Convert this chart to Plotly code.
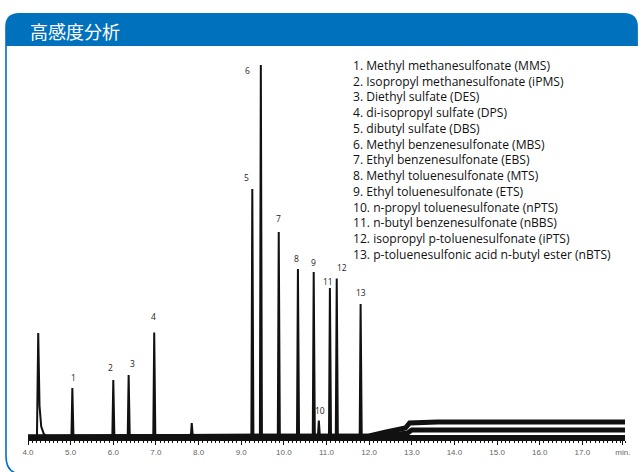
import plotly.graph_objects as go

# ---- chromatogram data (retention time in min, peak height in signal units) ----
peak_times = [4.24, 5.04, 6.00, 6.36, 6.96, 7.84, 9.26, 9.46, 9.88, 10.33, 10.70, 10.82, 11.08, 11.24, 11.80]
peak_heights = [104, 49, 57, 62, 104.5, 14, 248, 372, 205, 168, 165, 16.5, 149, 158.5, 133]
peak_labels = ["", "1", "2", "3", "4", "", "5", "6", "7", "8", "9", "10", "11", "12", "13"]

# baseline drift of the overlaid runs (time, level)
drift_b_t = [4.0, 12.0, 12.4, 12.85, 12.95, 13.6, 18.0]
drift_b_y = [0, 1, 5, 9, 14, 15, 15]
drift_c_t = [4.0, 12.3, 12.9, 13.0, 18.0]
drift_c_y = [0, 1, 4, 7, 7]

compounds = [
    "1. Methyl methanesulfonate (MMS)",
    "2. Isopropyl methanesulfonate (iPMS)",
    "3. Diethyl sulfate (DES)",
    "4. di-isopropyl sulfate (DPS)",
    "5. dibutyl sulfate (DBS)",
    "6. Methyl benzenesulfonate (MBS)",
    "7. Ethyl benzenesulfonate (EBS)",
    "8. Methyl toluenesulfonate (MTS)",
    "9. Ethyl toluenesulfonate (ETS)",
    "10. n-propyl toluenesulfonate (nPTS)",
    "11. n-butyl benzenesulfonate (nBBS)",
    "12. isopropyl p-toluenesulfonate (iPTS)",
    "13. p-toluenesulfonic acid n-butyl ester (nBTS)",
]

tick_vals = [4, 5, 6, 7, 8, 9, 10, 11, 12, 13, 14, 15, 16, 17, 17.95]
tick_text = ["4.0", "5.0", "6.0", "7.0", "8.0", "9.0", "10.0", "11.0", "12.0",
             "13.0", "14.0", "15.0", "16.0", "17.0", "min."]

title_text = "高感度分析"

# ---- layout geometry (pixels) ----
W, H = 642, 472
ML, MR, MT, MB = 28, 12, 60, 33
PW, PH = W - ML - MR, H - MT - MB
BLUE = "#0071bc"
INK = "#111111"


def px(x):
    return (x - ML) / PW


def py(y):
    return (H - MB - y) / PH


# ---- build the main trace: narrow peaks on a flat baseline ----
xs, ys = [4.0], [0]
for i, (t, h) in enumerate(zip(peak_times, peak_heights)):
    if i == 0:
        # solvent front with a tail
        xs += [t - 0.03, t, t + 0.03, t + 0.07, t + 0.13, t + 0.22]
        ys += [0, h, h * 0.3, h * 0.1, h * 0.03, 0]
    else:
        xs += [t - 0.022, t, t + 0.026]
        ys += [0, h, 0]
xs.append(18.0)
ys.append(0)

fig = go.Figure()
fig.add_trace(go.Scatter(x=drift_c_t, y=drift_c_y, mode="lines",
                         line=dict(color=INK, width=5), hoverinfo="skip"))
fig.add_trace(go.Scatter(x=drift_b_t, y=drift_b_y, mode="lines",
                         line=dict(color=INK, width=5), hoverinfo="skip"))
fig.add_trace(go.Scatter(x=[4.0, 18.0], y=[0, 0], mode="lines",
                         line=dict(color=INK, width=4), hoverinfo="skip"))
fig.add_trace(go.Scatter(x=xs, y=ys, mode="lines",
                         line=dict(color=INK, width=2), hoverinfo="skip"))

# label offsets in pixels (dx, dy above peak top)
label_offsets = {
    "1": (1, 11), "2": (-3, 13), "3": (4, 12), "4": (-1, 16), "5": (-6, 12),
    "6": (-13, -5), "7": (0, 14), "8": (-1, 11), "9": (0, 10), "10": (1, 10),
    "11": (-2, 7), "12": (5, 11), "13": (0, 12),
}
annotations = []
for t, h, lab in zip(peak_times, peak_heights, peak_labels):
    if not lab:
        continue
    dx, dy = label_offsets[lab]
    annotations.append(dict(x=t, y=h, xref="x", yref="y", text=lab, showarrow=False,
                            xshift=dx, yshift=dy, xanchor="center", yanchor="middle",
                            font=dict(family="Open Sans", size=8.5, color="#222222")))

# compound list as one left-aligned text block
annotations.append(dict(x=px(355), y=py(159.5), xref="paper", yref="paper",
                        text="<br>".join(compounds), showarrow=False,
                        xanchor="left", yanchor="middle", align="left", borderpad=0,
                        font=dict(family="Open Sans", size=12.1, color=INK)))

# header title
annotations.append(dict(x=px(28), y=py(31), xref="paper", yref="paper", text=title_text,
                        showarrow=False, xanchor="left", yanchor="middle",
                        font=dict(family="Noto Sans CJK JP", size=18, color="white")))

# header bar with rounded top corners, and the panel's left border
r = 14
hx0, hx1, hy0, hy1 = 5, 643, 13, 46
header_path = (
    f"M {px(hx0)} {py(hy1)} L {px(hx0)} {py(hy0 + r)} "
    f"Q {px(hx0)} {py(hy0)} {px(hx0 + r)} {py(hy0)} "
    f"L {px(hx1 - r)} {py(hy0)} Q {px(hx1)} {py(hy0)} {px(hx1)} {py(hy0 + r)} "
    f"L {px(hx1)} {py(hy1)} Z"
)
border_path = (
    f"M {px(5.8)} {py(46)} L {px(5.8)} {py(456)} "
    f"Q {px(5.8)} {py(474)} {px(22)} {py(474)}"
)
shapes = [
    dict(type="path", xref="paper", yref="paper", path=header_path,
         fillcolor=BLUE, line=dict(width=0), layer="below"),
    dict(type="path", xref="paper", yref="paper", path=border_path,
         line=dict(color=BLUE, width=1.6), layer="below"),
]

fig.update_layout(
    width=W, height=H,
    margin=dict(l=ML, r=MR, t=MT, b=MB),
    paper_bgcolor="white", plot_bgcolor="white",
    showlegend=False,
    annotations=annotations,
    shapes=shapes,
    xaxis=dict(range=[4.0, 18.0], showgrid=False, zeroline=False,
               showline=True, linecolor=INK, linewidth=2,
               ticks="outside", ticklen=4, tickwidth=1, tickcolor=INK,
               tickvals=tick_vals, ticktext=tick_text,
               tickfont=dict(family="Liberation Sans, Arial", size=8, color="#666666"),
               minor=dict(dtick=0.1, ticks="outside", ticklen=2, tickwidth=1,
                          tickcolor=INK, showgrid=False)),
    yaxis=dict(range=[-2, 377], visible=False, showgrid=False, zeroline=False),
)

fig.write_html("out.html")
